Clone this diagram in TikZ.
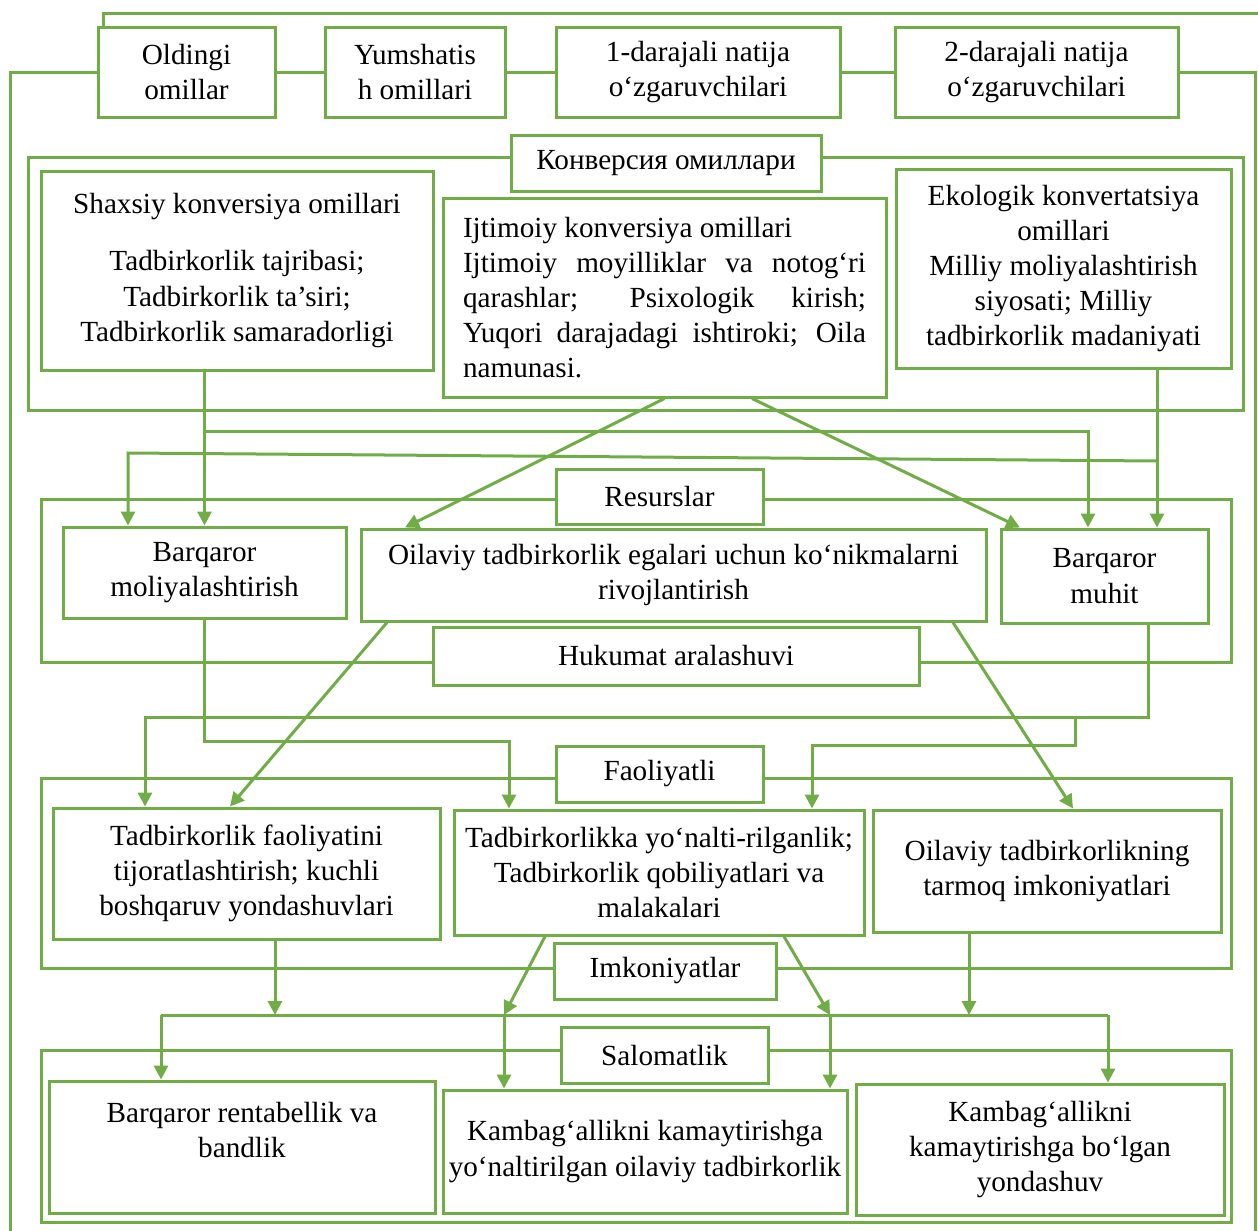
\documentclass[tikz,border=0pt]{standalone}
\usepackage{fontspec}
\setmainfont{Liberation Serif}
\usetikzlibrary{arrows.meta,calc}
\definecolor{ogreen}{HTML}{70AD47}

\begin{document}
\begin{tikzpicture}[x=0.5pt,y=-0.5pt,
    font=\fontsize{14.6}{17.6}\selectfont,
    box/.style={draw=ogreen,line width=1.5pt,fill=white,align=center,inner sep=2pt},
    group/.style={draw=ogreen,line width=1.5pt},
    link/.style={draw=ogreen,line width=1.5pt},
    linkarr/.style={link,-{Triangle[length=7pt,width=7pt]}}]
    \useasboundingbox (0,0) rectangle (1258,1231);

    % group frames
    \draw[group] (28,157) rectangle (1243,410);
    \draw[group] (41,499) rectangle (1231,662);
    \draw[group] (41,778) rectangle (1231,968);
    \draw[group] (41,1050) rectangle (1231,1222);

    % top row
    \node[box,minimum width=88.5pt,minimum height=45pt] (old) at (186.5,72) {Oldingi\\omillar};
    \node[box,minimum width=90pt,minimum height=45pt] (yum) at (415,72) {Yumshatis\\h omillari};
    \node[box,minimum width=142pt,minimum height=45pt] (d1) at (698,72) {1-darajali natija\\o‘zgaruvchilari};
    \node[box,minimum width=141.5pt,minimum height=45pt] (d2) at (1036.5,72) {2-darajali natija\\o‘zgaruvchilari};

    % konversiya
    \node[box,minimum width=155pt,minimum height=28pt] (konv) at (666,163) {Конверсия омиллари};
    \node[box,minimum width=196pt,minimum height=99.5pt] (shax) at (237,270.5) {Shaxsiy konversiya omillari\\[11pt]Tadbirkorlik tajribasi;\\Tadbirkorlik ta’siri;\\Tadbirkorlik samaradorligi};
    \node[box,minimum width=221.5pt,minimum height=99.5pt,text width=201.5pt,align=justify] (ijt) at (664.5,297.5) {Ijtimoiy konversiya omillari\\Ijtimoiy moyilliklar va notog‘ri\linebreak qarashlar; Psixologik kirish;\linebreak Yuqori darajadagi ishtiroki; Oila\linebreak namunasi.};
    \node[box,minimum width=167.5pt,minimum height=99.5pt] (eko) at (1063.5,268.5) {Ekologik konvertatsiya\\omillari\\Milliy moliyalashtirish\\siyosati; Milliy\\tadbirkorlik madaniyati};

    % resurslar
    \node[box,minimum width=103.5pt,minimum height=27.5pt] (res) at (659.5,496.5) {Resurslar};
    \node[box,minimum width=243pt,minimum height=29pt] (huk) at (676,656) {Hukumat aralashuvi};
    \node[box,minimum width=141.5pt,minimum height=45.5pt] (bmol) at (204.5,572.5) {Barqaror\\moliyalashtirish};
    \node[box,minimum width=312.5pt,minimum height=46pt] (ovl) at (673.5,575) {Oilaviy tadbirkorlik egalari uchun ko‘nikmalarni\\rivojlantirish};
    \node[box,minimum width=103.5pt,minimum height=47pt] (bmuh) at (1104.5,576) {Barqaror\\muhit};

    % faoliyatli
    \node[box,minimum width=103.5pt,minimum height=28pt] (fao) at (659.5,774) {Faoliyatli};
    \node[box,minimum width=111pt,minimum height=28pt] (imk) at (665,971) {Imkoniyatlar};
    \node[box,minimum width=193.5pt,minimum height=65.5pt] (tij) at (246.5,873.5) {Tadbirkorlik faoliyatini\\tijoratlashtirish; kuchli\\boshqaruv yondashuvlari};
    \node[box,minimum width=205pt,minimum height=62.5pt] (yon) at (659,872.5) {Tadbirkorlikka yo‘nalti-rilganlik;\\Tadbirkorlik qobiliyatlari va\\malakalari};
    \node[box,minimum width=174pt,minimum height=61pt] (tarm) at (1047,871) {Oilaviy tadbirkorlikning\\tarmoq imkoniyatlari};

    % salomatlik
    \node[box,minimum width=103.5pt,minimum height=28pt] (sal) at (664.5,1055) {Salomatlik};
    \node[box,minimum width=193pt,minimum height=66pt] (rent) at (242,1147) {Barqaror rentabellik va\\bandlik\\[-6pt]\strut};
    \node[box,minimum width=202pt,minimum height=61.5pt] (kam1) at (645,1151.5) {Kambag‘allikni kamaytirishga\\yo‘naltirilgan oilaviy tadbirkorlik};
    \node[box,minimum width=184pt,minimum height=65.5pt] (kam2) at (1040,1149.5) {Kambag‘allikni\\kamaytirishga bo‘lgan\\yondashuv};

    % outer loop
    \coordinate (lft) at (10,1231);
    \coordinate (rgt) at (1255,1231);
    \coordinate (ctop) at (1258,13);
    \draw[link] (old.east) -- (yum.west);
    \draw[link] (yum.east) -- (d1.west);
    \draw[link] (d1.east) -- (d2.west);
    \draw[link] (old.west) -| (lft);
    \draw[link] (d2.east) -| (rgt);
    \draw[link] ($(old.north west)+(7,0)$) |- (ctop);

    % konversiya -> resurslar
    \coordinate (sj) at (204.5,431);
    \coordinate (ej) at (1157,461);
    \coordinate (ek) at (128,453);
    \draw[linkarr] (bmol.north |- shax.south) -- (bmol.north);
    \draw[linkarr] (sj) -| ($(bmuh.north)+(-16.5,0)$);
    \draw[linkarr] ($(eko.south)+(93.5,0)$) -- ($(bmuh.north)+(52.5,0)$);
    \draw[linkarr] (ej) -- (ek) -- (bmol.north -| ek);
    \draw[linkarr] (ijt.south) -- ($(ovl.north)+(-268.5,0)$);
    \draw[linkarr] ($(ijt.south)+(87.5,0)$) -- ($(bmuh.north)+(-84.5,0)$);

    % resurslar -> faoliyatli
    \coordinate (mj) at (509,741);
    \coordinate (hj) at (145,717);
    \coordinate (hk) at (1075,717);
    \coordinate (hl) at (812,745);
    \draw[linkarr] (bmol.south) |- (mj) -- (yon.north -| mj);
    \draw[linkarr] ($(bmuh.south)+(43.5,0)$) |- (hj) -- (tij.north -| hj);
    \draw[linkarr] (hk) |- (hl) -- (yon.north -| hl);
    \draw[linkarr] ($(ovl.south)+(-286.5,0)$) -- ($(tij.north)+(-16.5,0)$);
    \draw[linkarr] ($(ovl.south)+(279.5,0)$) -- ($(tarm.north)+(26,0)$);

    % faoliyatli -> salomatlik
    \coordinate (sa) at (161,1015);
    \coordinate (sb) at (275,1015);
    \coordinate (sc) at (504,1015);
    \coordinate (sd) at (830,1015);
    \coordinate (se) at (969,1015);
    \coordinate (sf) at (1108,1015);
    \draw[link] (sa) -- (sf);
    \draw[linkarr] (tij.south -| sb) -- (sb);
    \draw[linkarr] ($(yon.south)+(-114,0)$) -- (sc);
    \draw[linkarr] ($(yon.south)+(125,0)$) -- (sd);
    \draw[linkarr] (tarm.south -| se) -- (se);
    \draw[linkarr] (sa) -- (rent.north -| sa);
    \draw[linkarr] (sc) -- (kam1.north -| sc);
    \draw[linkarr] (sd) -- (kam1.north -| sd);
    \draw[linkarr] (sf) -- (kam2.north -| sf);
\end{tikzpicture}
\end{document}
